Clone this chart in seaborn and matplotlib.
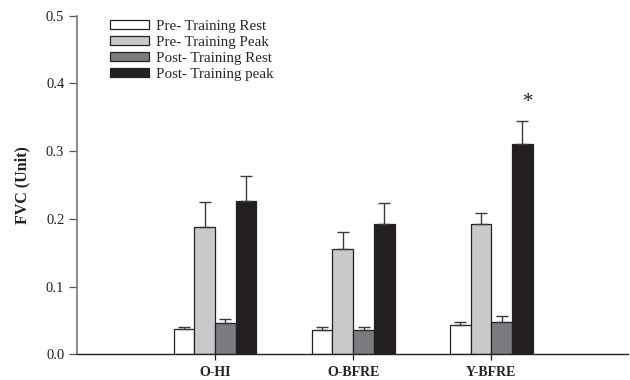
import matplotlib
matplotlib.use("Agg")
import matplotlib.pyplot as plt
import seaborn as sns
import pandas as pd
import numpy as np

groups = ["O-HI", "O-BFRE", "Y-BFRE"]
conditions = ["Pre- Training Rest", "Pre- Training Peak",
              "Post- Training Rest", "Post- Training peak"]

pre_rest = [0.037, 0.036, 0.043]
pre_rest_sd = [0.004, 0.005, 0.004]
pre_peak = [0.188, 0.156, 0.192]
pre_peak_sd = [0.037, 0.025, 0.017]
post_rest = [0.046, 0.036, 0.048]
post_rest_sd = [0.006, 0.005, 0.008]
post_peak = [0.226, 0.193, 0.311]
post_peak_sd = [0.037, 0.030, 0.033]

yticks = [0.0, 0.1, 0.2, 0.3, 0.4, 0.5]

means = [pre_rest, pre_peak, post_rest, post_peak]
sds = [pre_rest_sd, pre_peak_sd, post_rest_sd, post_peak_sd]

rows = []
for cond, m, s in zip(conditions, means, sds):
    for g, v, e in zip(groups, m, s):
        rows.append({"group": g, "condition": cond, "FVC": v, "sd": e})
df = pd.DataFrame(rows)

sns.set_theme(style="white")
plt.rcParams["font.family"] = ["Liberation Serif", "DejaVu Serif"]

palette = ["#ffffff", "#c8c9cb", "#7b7c7f", "#231f20"]

fig = plt.figure(figsize=(6.3, 3.8), dpi=100)
ax = fig.add_axes([0.122, 0.0676, 0.875, 0.891])

sns.barplot(data=df, x="group", y="FVC", hue="condition", order=groups,
            hue_order=conditions, palette=palette, width=0.6, errorbar=None,
            edgecolor="#222222", linewidth=0.9, saturation=1, ax=ax)

# upper-only error bars at each bar's centre
for container, cond in zip(ax.containers, conditions):
    sub = df[df["condition"] == cond].set_index("group").loc[groups]
    xs = [p.get_x() + p.get_width() / 2 for p in container.patches]
    ax.errorbar(xs, sub["FVC"].values,
                yerr=[np.zeros(len(xs)), sub["sd"].values],
                fmt="none", ecolor="#3a3a3a", elinewidth=1.0,
                capsize=4.3, capthick=1.0, zorder=1)

# significance marker above Y-BFRE post-training peak
last = ax.containers[3].patches[2]
ax.text(last.get_x() + last.get_width() / 2 + 0.04, 0.372, "*",
        ha="center", va="center", fontsize=15, color="#222222")

ax.set_xlim(-1.0, 2.99)
ax.set_ylim(0, 0.5)
ax.set_yticks(yticks)
ax.set_yticklabels([f"{t:.1f}" for t in yticks], fontsize=10.5, color="#222222")
ax.set_xticks(range(len(groups)))
ax.set_xticklabels(groups, fontsize=10, fontweight="bold", color="#222222")
ax.set_xlabel("")
ax.set_ylabel("FVC (Unit)", fontsize=11.5, fontweight="bold", color="#222222", labelpad=11)

ax.tick_params(axis="y", direction="out", length=6, width=0.9, color="#555555", pad=3, left=True)
ax.tick_params(axis="x", direction="out", length=4, width=0.9, color="#222222", pad=4.5, bottom=True)

for side in ["top", "right"]:
    ax.spines[side].set_visible(False)
ax.spines["left"].set_color("#777777")
ax.spines["left"].set_linewidth(1.2)
ax.spines["bottom"].set_color("#222222")
ax.spines["bottom"].set_linewidth(1.0)

ax.legend(loc="upper left", bbox_to_anchor=(0.05, 1.005), frameon=False,
          fontsize=10.8, handlelength=2.6, handleheight=0.58,
          labelspacing=0.2, handletextpad=0.45, borderaxespad=0.0)

fig.savefig("out.png", dpi=100)
